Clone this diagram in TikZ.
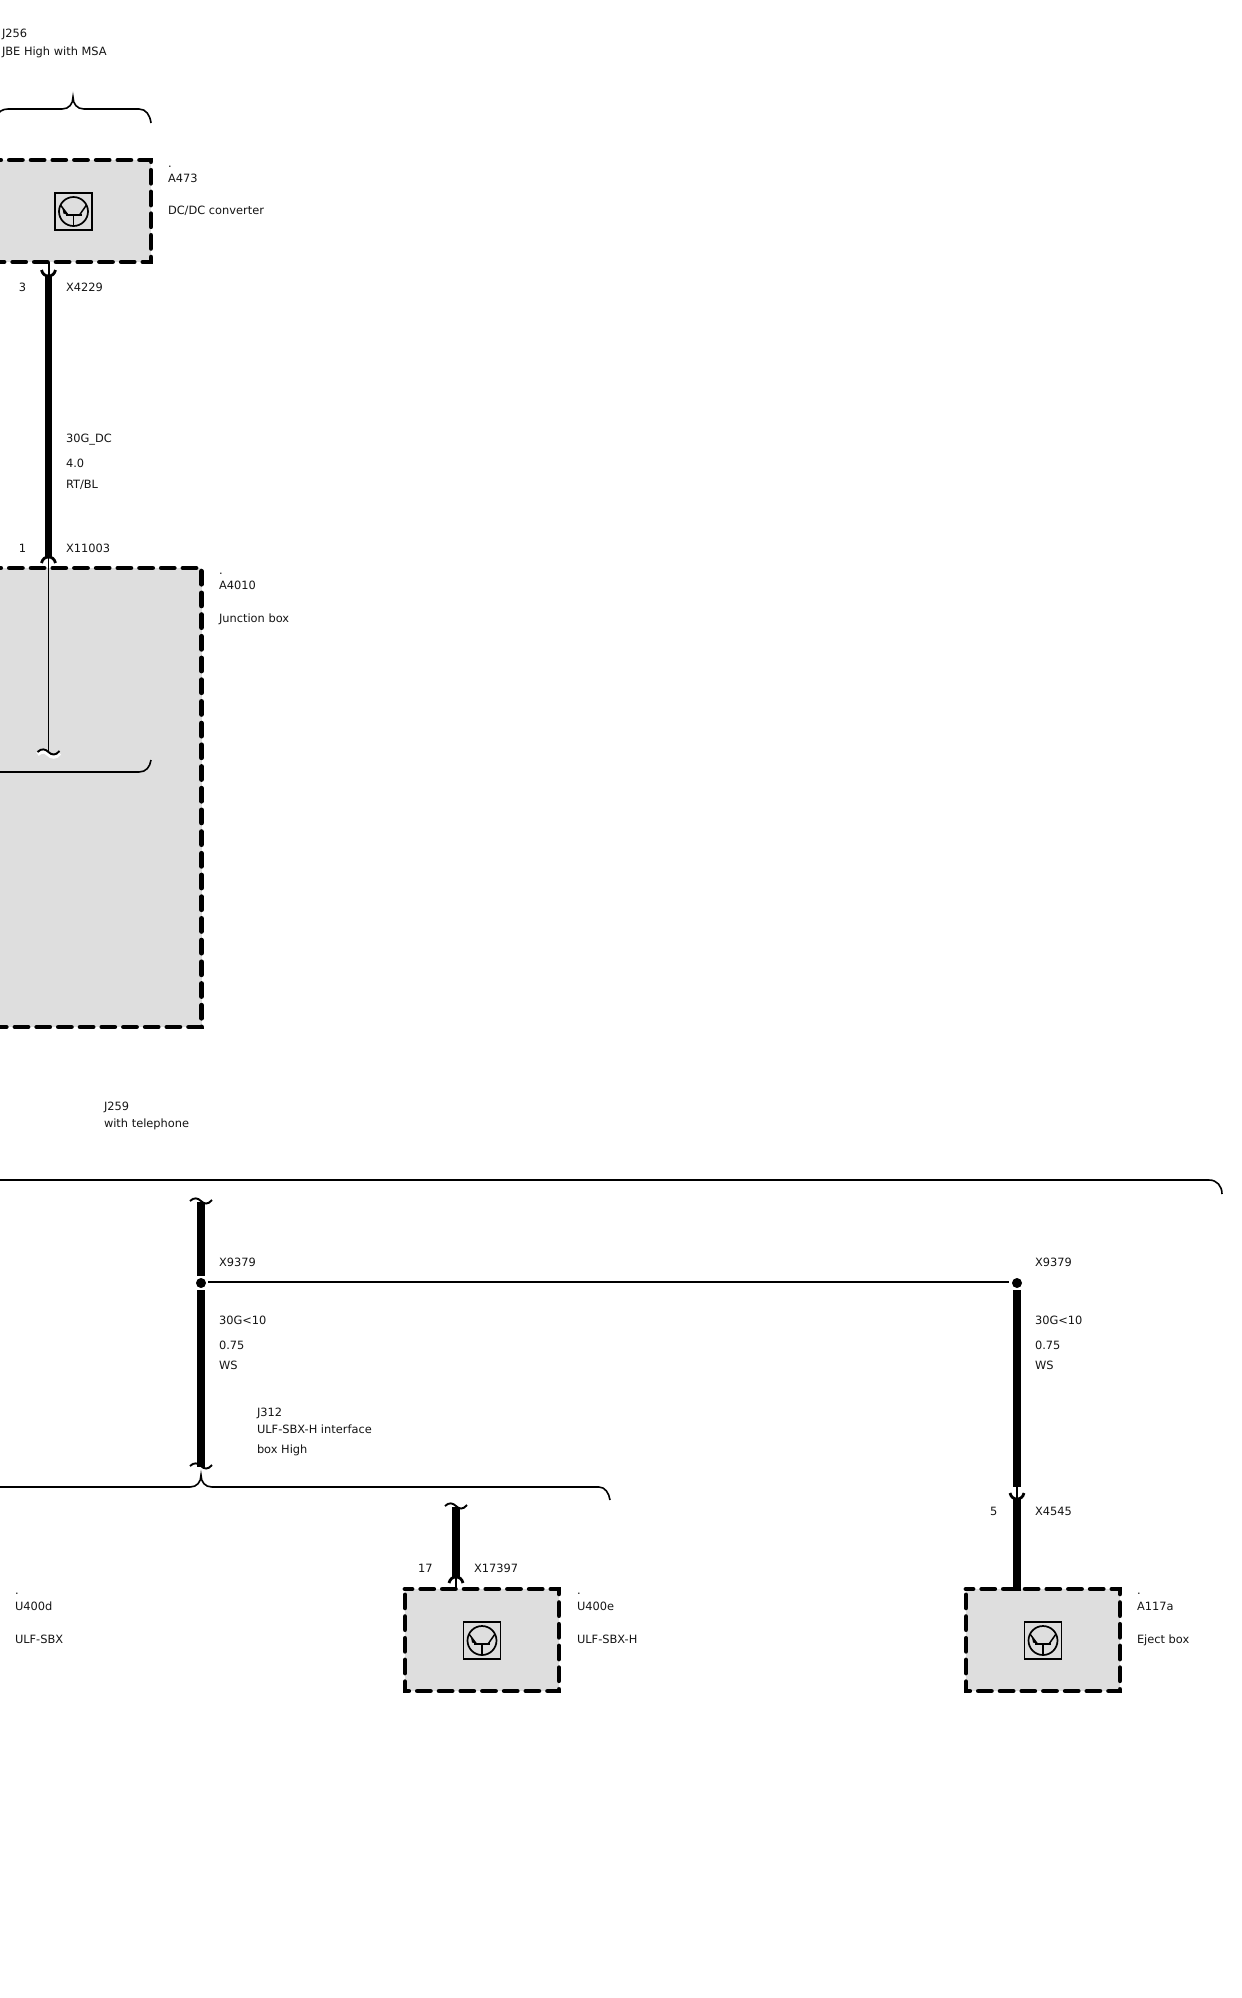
\documentclass[tikz,border=0pt]{standalone}
\usepackage{fontspec}
\setmainfont{DejaVu Sans}
\definecolor{boxgrey}{HTML}{DEDEDE}
\definecolor{inkc}{HTML}{141414}
\tikzset{
  lab/.style={anchor=base west,inner sep=0pt,outer sep=0pt,text=inkc,font=\fontsize{11.4}{13}\selectfont},
  heavy/.style={line width=7.5pt,black},
  thinw/.style={line width=1.5pt,black},
  bracket/.style={line width=1.6pt,black},
  dashbox/.style={fill=boxgrey,draw=black,line width=4.8pt,line cap=round,line join=miter,dash pattern=on 13pt off 8.7pt,dash phase=6pt},
  dotn/.style={circle,fill=black,inner sep=0pt,minimum size=10pt},
  pics/transistor/.style={code={
    \draw[line width=1.5pt,fill=boxgrey] (-18.5,-18.5) -- (18.5,-18.5) -- (18.5,18.5) -- (-18.5,18.5) -- cycle;
    \draw[line width=1.7pt] (0,0) circle (14.5);
    \draw[line width=1.5pt] (-8,3.5) -- (8,3.5) (0,3.5) -- (0,15);
    \draw[line width=1.5pt] (-13,-6.5) -- (-5.5,3.5) (13,-6.5) -- (6,3.5);
    \fill (-11,-3) -- (-5,3.5) -- (-10,2) -- cycle;
  }},
  pics/cupu/.style={code={
    \draw[line width=2.8pt] (-7,-6) .. controls (-6,-2) and (-3.5,0) .. (0,0) .. controls (3.5,0) and (6,-2) .. (7,-6);
  }},
  pics/cupn/.style={code={
    \draw[line width=2.8pt] (-7,6) .. controls (-6,2) and (-3.5,0) .. (0,0) .. controls (3.5,0) and (6,2) .. (7,6);
  }},
  pics/wave/.style={code={
    \draw[line width=1.9pt] (-11,-1) .. controls (-7,-5) and (-3,-4) .. (0,-1) .. controls (3,2) and (7,3) .. (11,-2);
  }},
  pics/wavehalo/.style={code={
    \draw[line width=4.5pt,white] (-11,1) .. controls (-7,-3) and (-3,-2) .. (0,1) .. controls (3,4) and (7,5) .. (11,0);
    \draw[line width=1.9pt] (-11,-1) .. controls (-7,-5) and (-3,-4) .. (0,-1) .. controls (3,2) and (7,3) .. (11,-2);
  }}
}
\begin{document}
\begin{tikzpicture}[x=1pt,y=-1pt]
\useasboundingbox (0,0) rectangle (1242,1998);
% named connection points
\coordinate (a473b) at (48.5,262);
\coordinate (c4229) at (48.5,276);
\coordinate (w4229) at (48.5,276);
\coordinate (c11003) at (48.5,557);
\coordinate (a4010t) at (48.5,568);
\coordinate (wave1) at (48.5,753);
\coordinate (waveA) at (201,1202);
\coordinate (waveB) at (201,1467);
\coordinate (waveC) at (456,1507);
\coordinate (c17397) at (456,1577);
\coordinate (u400et) at (456,1589);
\coordinate (cupE) at (1017,1499);
\coordinate (a117t) at (1017,1591);
% grey boxes
\draw[dashbox] (-28,160) -- (151,160) -- (151,262) -- (-28,262) -- cycle;
\draw[dashbox] (-28,568) -- (201.5,568) -- (201.5,1027) -- (-28,1027) -- cycle;
\draw[dashbox] (405,1589) -- (559,1589) -- (559,1691) -- (405,1691) -- cycle;
\draw[dashbox] (966,1589) -- (1120,1589) -- (1120,1691) -- (966,1691) -- cycle;
% transistor symbols
\pic at (73.5,211.5) {transistor};
\pic at (482,1640.5) {transistor};
\pic at (1043,1640.5) {transistor};
% brackets
\draw[bracket] (-4,116) .. controls (-1,112) and (2,109) .. (8,109) -- (62,109)
  .. controls (69,109) and (73,104) .. (73,97) .. controls (73,104) and (77,109) .. (84,109)
  -- (139,109) .. controls (146,109) and (150,115) .. (151,123);
\draw[bracket] (-4,772) -- (139,772) .. controls (146,772) and (150,767) .. (151,760);
\draw[bracket] (-4,1180) -- (1209,1180) .. controls (1217,1180) and (1222,1186) .. (1222,1194);
\draw[bracket] (-4,1487) -- (190,1487) .. controls (197,1487) and (201,1482) .. (201,1475)
  .. controls (201,1482) and (205,1487) .. (212,1487) -- (599,1487)
  .. controls (605,1487) and (609,1493) .. (610,1500);
% junction dots
\node[dotn] (d1) at (201,1283) {};
\node[dotn] (d2) at (1017,1283) {};
% wires (yshift is in page units: positive is upward)
\draw[line width=2pt] (a473b) -- (c4229);
\draw[heavy] (w4229) -- (c11003);
\pic at (c4229) {cupu};
\pic at (c11003) {cupn};
\draw[thinw] (c11003) -- (wave1);
\pic at (wave1) {wavehalo};
\draw[heavy] (waveA) -- ([yshift=7pt]d1.center);
\draw[heavy] ([yshift=-7pt]d1.center) -- (waveB);
\pic at (waveA) {wave};
\pic at (waveB) {wave};
\draw[thinw] ([xshift=7pt,yshift=1pt]d1.center) -- ([xshift=-8pt,yshift=1pt]d2.center);
\draw[heavy] (waveC) -- (c17397);
\pic at (waveC) {wave};
\pic at (c17397) {cupn};
\draw[line width=2pt] (c17397) -- (u400et);
\draw[heavy] ([yshift=-7pt]d2.center) -- ([yshift=12pt]cupE);
\draw[line width=2pt] ([yshift=12pt]cupE) -- (cupE);
\pic at (cupE) {cupu};
\draw[heavy] (cupE) -- (a117t);
% labels
\node[lab] (j256a) at (2,37) {J256};
\node[lab] (j256b) at (2,55) {JBE High with MSA};
\node[lab] (a473d) at (168,167) {.};
\node[lab] (a473a) at (168,182) {A473};
\node[lab] (a473n) at (168,214) {DC/DC converter};
\node[lab] (p3) at (19,291) {3};
\node[lab] (x4229) at (66,291) {X4229};
\node[lab] (s30dc) at (66,442) {30G\_DC};
\node[lab] (s40) at (66,467) {4.0};
\node[lab] (srt) at (66,488) {RT/BL};
\node[lab] (p1) at (19,552) {1};
\node[lab] (x11003) at (66,552) {X11003};
\node[lab] (a4010d) at (219,574) {.};
\node[lab] (a4010a) at (219,589) {A4010};
\node[lab] (a4010n) at (219,622) {Junction box};
\node[lab] (j259a) at (104,1110) {J259};
\node[lab] (j259b) at (104,1127) {with telephone};
\node[lab] (x9379a) at (219,1266) {X9379};
\node[lab] (s30a) at (219,1324) {30G<10};
\node[lab] (s075a) at (219,1349) {0.75};
\node[lab] (swsa) at (219,1369) {WS};
\node[lab] (j312a) at (257,1416) {J312};
\node[lab] (j312b) at (257,1433) {ULF-SBX-H interface};
\node[lab] (j312c) at (257,1453) {box High};
\node[lab] (x9379b) at (1035,1266) {X9379};
\node[lab] (s30b) at (1035,1324) {30G<10};
\node[lab] (s075b) at (1035,1349) {0.75};
\node[lab] (swsb) at (1035,1369) {WS};
\node[lab] (p5) at (990,1515) {5};
\node[lab] (x4545) at (1035,1515) {X4545};
\node[lab] (p17) at (418,1572) {17};
\node[lab] (x17397) at (474,1572) {X17397};
\node[lab] (u400dd) at (15,1594) {.};
\node[lab] (u400da) at (15,1610) {U400d};
\node[lab] (u400dn) at (15,1643) {ULF-SBX};
\node[lab] (u400ed) at (577,1594) {.};
\node[lab] (u400ea) at (577,1610) {U400e};
\node[lab] (u400en) at (577,1643) {ULF-SBX-H};
\node[lab] (a117d) at (1137,1594) {.};
\node[lab] (a117a) at (1137,1610) {A117a};
\node[lab] (a117n) at (1137,1643) {Eject box};
\end{tikzpicture}
\end{document}
